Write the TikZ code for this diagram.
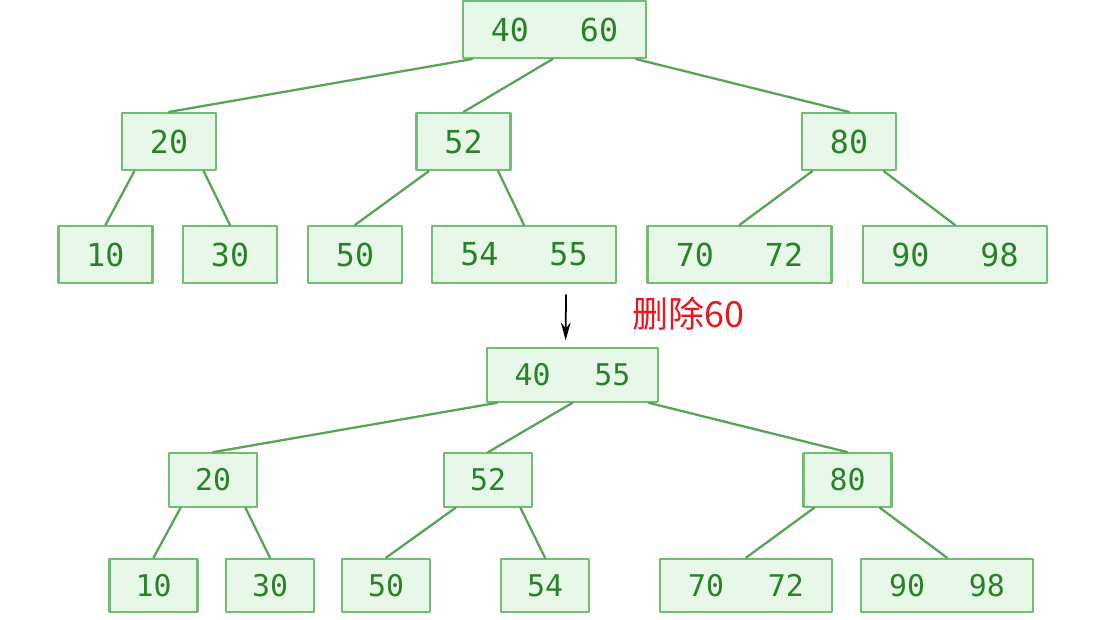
\documentclass[tikz,border=0pt]{standalone}
\usepackage{fontspec}
\newfontfamily\keyfont{DejaVu Sans Mono}
\newfontfamily\cjk{Noto Sans CJK SC}
\usetikzlibrary{calc,arrows.meta}
\definecolor{boxline}{RGB}{115,188,115}
\definecolor{boxfill}{RGB}{232,248,232}
\definecolor{keytext}{RGB}{40,130,40}
\definecolor{linkgreen}{RGB}{85,165,85}
\definecolor{notered}{RGB}{232,24,31}
\tikzset{
  keybox/.style={draw=boxline,fill=boxfill,text=keytext,line width=1.2pt,
    inner sep=0pt,font=\keyfont\fontsize{18}{18}\selectfont},
  keyboxs/.style={keybox,minimum width=1.88cm,minimum height=1.14cm},
  keyboxw/.style={keybox,minimum width=3.68cm,minimum height=1.14cm},
  keyboxb/.style={keybox,font=\keyfont\fontsize{17}{17}\selectfont,
    minimum width=1.76cm,minimum height=1.07cm},
  keyboxbw/.style={keyboxb,minimum width=3.44cm},
  link/.style={draw=linkgreen,line width=1.3pt}
}
\begin{document}
\begin{tikzpicture}[x=0.02cm,y=-0.02cm,line cap=round,line join=round]
  \useasboundingbox (0,0) rectangle (1094,619);

  % Tree before deletion
  \node[keyboxw,minimum width=3.66cm] (r1) at (554.5,29.5) {40\hspace{1.02cm}60};
  \node[keyboxs] (a20) at (169,141.5) {20};
  \node[keyboxs] (a52) at (463.5,141.5) {52};
  \node[keyboxs] (a80) at (849,141.5) {80};
  \node[keyboxs] (a10) at (105.5,254.5) {10};
  \node[keyboxs] (a30) at (230,254.5) {30};
  \node[keyboxs] (a50) at (355,254.5) {50};
  \node[keyboxw] (a5455) at (524,254.5) {54\hspace{1.02cm}55};
  \node[keyboxw] (a7072) at (739.5,254.5) {70\hspace{1.02cm}72};
  \node[keyboxw] (a9098) at (955,254.5) {90\hspace{1.02cm}98};

  % Tree after deletion
  \node[keyboxbw,minimum width=3.42cm] (r2) at (572.5,375) {40\hspace{0.88cm}55};
  \node[keyboxb] (b20) at (213,480) {20};
  \node[keyboxb] (b52) at (488,480) {52};
  \node[keyboxb] (b80) at (847.5,480) {80};
  \node[keyboxb] (b10) at (153.5,585.5) {10};
  \node[keyboxb] (b30) at (270,585.5) {30};
  \node[keyboxb] (b50) at (386,585.5) {50};
  \node[keyboxb] (b54) at (545,585.5) {54};
  \node[keyboxbw] (b7072) at (746,585.5) {70\hspace{0.88cm}72};
  \node[keyboxbw] (b9098) at (947,585.5) {90\hspace{0.88cm}98};

  % Links: parent bottom edge (fraction) to child top
  \foreach \p/\f/\c in {r1/.055/a20, r1/.49/a52, r1/.94/a80,
      a20/.14/a10, a20/.86/a30, a52/.14/a50, a52/.86/a5455,
      a80/.12/a7072, a80/.86/a9098,
      r2/.064/b20, r2/.5/b52, r2/.94/b80,
      b20/.14/b10, b20/.86/b30, b52/.14/b50, b52/.86/b54,
      b80/.13/b7072, b80/.86/b9098}
    \draw[link] ($(\p.south west)!\f!(\p.south east)$) -- (\c.north);

  % Deletion step
  \coordinate (from) at (566,295);
  \draw[-{Stealth[length=10pt,width=5.5pt]},line width=1pt]
    (from) -- ($(r2.north west)!0.46!(r2.north east)$) [shorten >=4pt];
  \node[text=notered,font=\cjk\fontsize{20.5}{20.5}\selectfont] (del) at (688,314) {删除60};
\end{tikzpicture}
\end{document}
